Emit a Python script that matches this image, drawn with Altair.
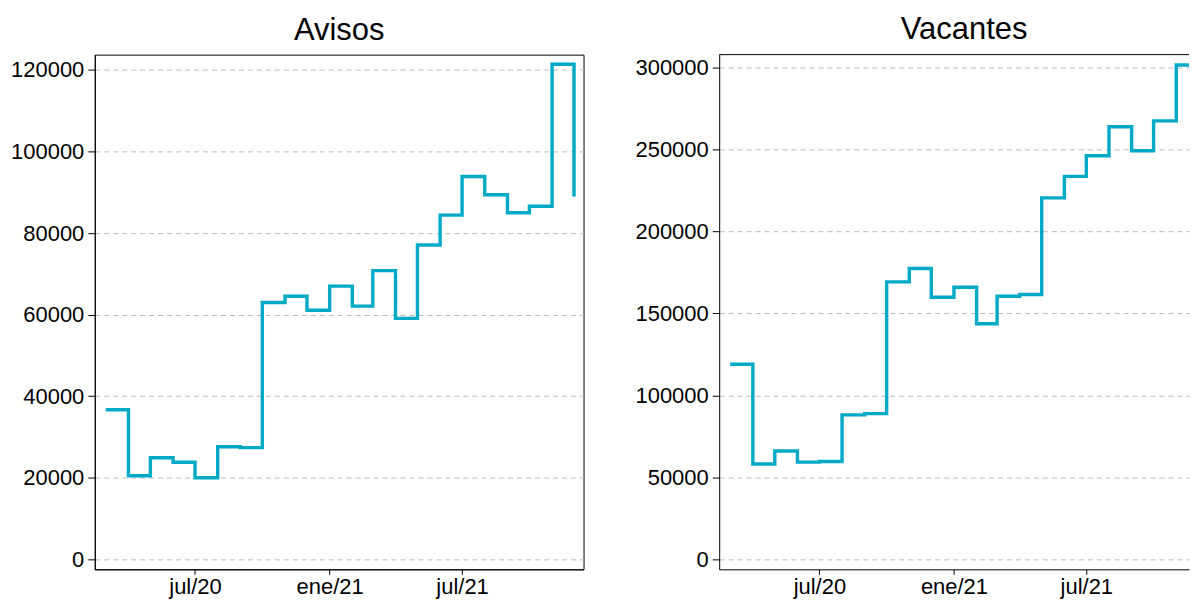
import altair as alt
import pandas as pd

months = [
    "2020-03-01", "2020-04-01", "2020-05-01", "2020-06-01", "2020-07-01", "2020-08-01",
    "2020-09-01", "2020-10-01", "2020-11-01", "2020-12-01", "2021-01-01", "2021-02-01",
    "2021-03-01", "2021-04-01", "2021-05-01", "2021-06-01", "2021-07-01", "2021-08-01",
    "2021-09-01", "2021-10-01", "2021-11-01", "2021-12-01",
]
avisos = [
    36700, 20500, 24900, 23800, 20000, 27600,
    27400, 63000, 64500, 61100, 67000, 62100,
    70800, 59100, 77100, 84400, 93900, 89400,
    85000, 86600, 121400, 89000,
]
vacantes = [
    119000, 58200, 66100, 59300, 59700, 88100,
    88900, 169300, 177400, 159900, 166000, 143700,
    160500, 161600, 220500, 233600, 246200, 263900,
    249300, 267500, 301600, 250000,
]
tick_dates = ["2020-07-01", "2021-01-01", "2021-07-01"]

FONT = "Liberation Sans"
LINE_COLOR = "#00AAC7"

df = pd.DataFrame({"fecha": months, "Avisos": avisos, "Vacantes": vacantes})

x_start = alt.DateTime(year=2020, month=2, date=15, utc=True)
x_end_left = alt.DateTime(year=2021, month=12, date=14, utc=True)
x_end_right = alt.DateTime(year=2021, month=11, date=18, hours=10, utc=True)
x_values = [
    alt.DateTime(year=int(d[:4]), month=int(d[5:7]), date=1, utc=True) for d in tick_dates
]

label_expr = (
    "(utcFormat(datum.value, '%m') == '01' ? 'ene' : 'jul') + '/' + utcFormat(datum.value, '%y')"
)

W_LEFT = 490
W_RIGHT = 471
H = 516


def line(field, ymin, ymax, step, x_end, width):
    return (
        alt.Chart(df)
        .mark_line(interpolate="step-after", color=LINE_COLOR, strokeWidth=3.4, clip=True)
        .encode(
            x=alt.X("fecha:T", scale=alt.Scale(type="utc", domain=[x_start, x_end], nice=False),
                    axis=alt.Axis(values=x_values, labelExpr=label_expr, grid=False,
                                  title=None, tickSize=5, labelPadding=2)),
            y=alt.Y(f"{field}:Q", scale=alt.Scale(domain=[ymin, ymax], nice=False, zero=False),
                    axis=alt.Axis(values=list(range(0, int(ymax) + 1, step)), format="d",
                                  grid=True, gridDash=[5, 4], gridColor="#BBBBBB",
                                  title=None, tickSize=7, labelPadding=4)),
        )
        .properties(width=width, height=H)
    )


def title(text, dx=0):
    return alt.TitleParams(text, fontSize=31, font=FONT, fontWeight="normal",
                           anchor="middle", offset=8, color="black", dx=dx)


left = line("Avisos", -2450, 123770, 20000, x_end_left, W_LEFT).properties(title=title("Avisos"))

top_border = (
    alt.Chart(pd.DataFrame({"k": [0]}))
    .mark_rule(color="black", strokeWidth=1)
    .encode(x=alt.value(0), x2=alt.value(W_RIGHT), y=alt.value(0))
)
right = (
    alt.layer(line("Vacantes", -6090, 307900, 50000, x_end_right, W_RIGHT), top_border)
    .properties(title=title("Vacantes", dx=10), width=W_RIGHT, height=H,
                view=alt.ViewBackground(stroke=None))
)

chart = (
    alt.hconcat(left, right, spacing=50,
                padding={"left": 2, "top": 5, "right": 0, "bottom": 0})
    .configure_axis(
        labelFont=FONT, labelFontSize=22, labelColor="black",
        domainColor="black", tickColor="black", domainWidth=1,
    )
    .configure_view(stroke="black", strokeWidth=1)
)

chart.save("out.html", embed_options={"renderer": "svg", "actions": False})
